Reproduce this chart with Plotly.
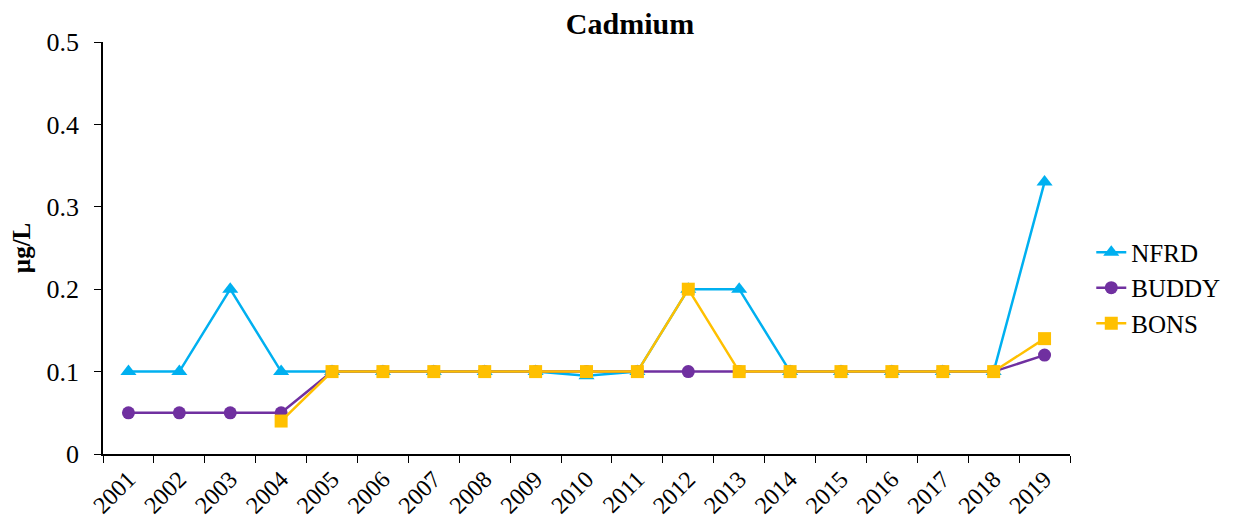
import plotly.graph_objs as go

years = [str(y) for y in range(2001, 2020)]

nfrd = [0.1, 0.1, 0.2, 0.1, 0.1, 0.1, 0.1, 0.1, 0.1, 0.095,
        0.1, 0.2, 0.2, 0.1, 0.1, 0.1, 0.1, 0.1, 0.33]
buddy = [0.05, 0.05, 0.05, 0.05, 0.1, 0.1, 0.1, 0.1, 0.1, 0.1,
         0.1, 0.1, 0.1, 0.1, 0.1, 0.1, 0.1, 0.1, 0.12]
bons = [None, None, None, 0.04, 0.1, 0.1, 0.1, 0.1, 0.1, 0.1,
        0.1, 0.2, 0.1, 0.1, 0.1, 0.1, 0.1, 0.1, 0.14]

font = "Liberation Serif, Times New Roman, serif"

fig = go.Figure()
fig.add_trace(go.Scatter(
    x=years, y=nfrd, name="NFRD", mode="lines+markers",
    line=dict(color="#00B0F0", width=2.5),
    marker=dict(symbol="triangle-up", size=14, color="#00B0F0"),
))
fig.add_trace(go.Scatter(
    x=years, y=buddy, name="BUDDY", mode="lines+markers",
    line=dict(color="#7030A0", width=2.5),
    marker=dict(symbol="circle", size=13, color="#7030A0"),
))
fig.add_trace(go.Scatter(
    x=years, y=bons, name="BONS", mode="lines+markers",
    line=dict(color="#FFC000", width=2.5),
    marker=dict(symbol="square", size=13, color="#FFC000"),
))

# page body adds 8px offset, so margins are shifted accordingly
fig.update_layout(
    width=1244, height=521,
    paper_bgcolor="white", plot_bgcolor="white",
    margin=dict(l=95, r=182, t=34, b=75, autoexpand=False),
    font=dict(family=font, size=24, color="black"),
    title=dict(text="<b>Cadmium</b>", x=0.5, xanchor="center",
               y=0.971, yanchor="middle", font=dict(size=30)),
    showlegend=True,
    legend=dict(x=1.022, y=0.403, xanchor="left", yanchor="middle",
                font=dict(size=25), tracegroupgap=0),
    xaxis=dict(
        type="category", range=[-0.5, 18.5], tickson="boundaries",
        ticks="outside", ticklen=7, tickcolor="black", showline=True,
        linecolor="black", linewidth=1.5, tickangle=-45, showgrid=False,
        zeroline=False, tickfont=dict(size=24), automargin=False,
    ),
    yaxis=dict(
        range=[0, 0.5], dtick=0.1, ticks="outside", ticklen=7,
        tickcolor="black", showline=True, linecolor="black", linewidth=1.5,
        showgrid=False, zeroline=False, ticklabelstandoff=10,
        tickfont=dict(size=26),
        title=dict(text="<b>µg/L</b>", font=dict(size=25), standoff=18),
    ),
)

fig.write_html("out.html")
